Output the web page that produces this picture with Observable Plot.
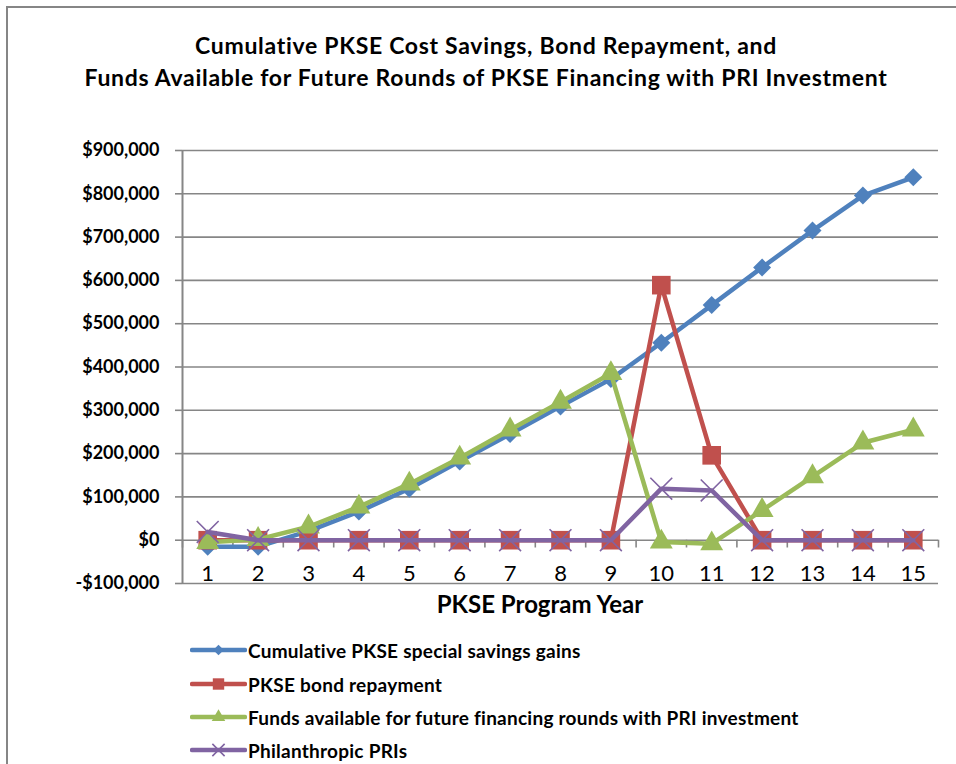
<!DOCTYPE html>
<html>
<head>
<meta charset="utf-8">
<script src="https://cdn.jsdelivr.net/npm/d3@7"></script>
<script src="https://cdn.jsdelivr.net/npm/@observablehq/plot@0.6"></script>
<style>
  html, body { margin: 0; padding: 0; background: #fff; }
  #wrap { position: relative; width: 956px; height: 764px; overflow: hidden; font-family: Lato, "Open Sans", sans-serif; color: #000; }
  #frame { position: absolute; left: 6px; top: 6px; right: -10px; bottom: -10px; border-left: 2px solid #868686; border-top: 2px solid #868686; }
  #title { position: absolute; left: 16px; width: 940px; top: 29px; text-align: center; font-weight: bold; font-size: 23px; letter-spacing: 0.7px; line-height: 32px; white-space: nowrap; }
  #xlabel { position: absolute; left: 340px; width: 400px; top: 590px; text-align: center; font-weight: bold; font-size: 24px; line-height: 28px; }
  #plot { position: absolute; left: 0; top: 0; }
  .leg { position: absolute; left: 190px; display: flex; align-items: center; font-weight: bold; font-size: 19px; letter-spacing: 0.25px; height: 24px; white-space: nowrap; }
  .leg svg { margin-right: 1px; }
</style>
</head>
<body>
<div id="wrap">
  <div id="frame"></div>
  <div id="plot"></div>
  <div id="title">Cumulative PKSE Cost Savings, Bond Repayment, and<br>Funds Available for Future Rounds of PKSE Financing with PRI Investment</div>
  <div id="xlabel">PKSE Program Year</div>
  <div id="legend"></div>
</div>
<script>
const years = [1, 2, 3, 4, 5, 6, 7, 8, 9, 10, 11, 12, 13, 14, 15];
const savings = [-15000, -15000, 21000, 66000, 119000, 182000, 245000, 309000, 372000, 456000, 543000, 630000, 715000, 796000, 838000];
const bond = [0, 0, 0, 0, 0, 0, 0, 0, 0, 589000, 196000, 0, 0, 0, 0];
const funds = [-5000, 2000, 31000, 77000, 130000, 190000, 255000, 319000, 385000, -4000, -8000, 69000, 147000, 225000, 255000];
const pri = [19000, 0, 0, 0, 0, 0, 0, 0, 0, 119000, 115000, 0, 0, 0, 0];
const yTicks = [-100000, 0, 100000, 200000, 300000, 400000, 500000, 600000, 700000, 800000, 900000];
const seriesNames = [
  "Cumulative PKSE special savings gains",
  "PKSE bond repayment",
  "Funds available for future financing rounds with PRI investment",
  "Philanthropic PRIs"
];
const seriesColors = ["#4F81BD", "#C0504D", "#9BBB59", "#8064A2"];
const seriesValues = [savings, bond, funds, pri];

const symbols = ["diamond2", "square", "triangle", "times"];
const dotR = [8.1, 10.5, 8.5, 10];
const legendSize = [70, 130, 80, 100];
const d3Symbols = [d3.symbolDiamond2, d3.symbolSquare, d3.symbolTriangle, d3.symbolTimes];

const fmt = d => (d < 0 ? "-" : "") + "$" + d3.format(",")(Math.abs(d));
const boundaries = [0.5].concat(years.map(y => y + 0.5));
const gray = "#868686";

const seriesMarks = seriesValues.flatMap((vals, s) => {
  const data = years.map((year, i) => ({year, value: vals[i]}));
  const isStroke = symbols[s] === "times";
  return [
    Plot.line(data, {x: "year", y: "value", stroke: seriesColors[s], strokeWidth: 4.5}),
    Plot.dot(data, {
      x: "year", y: "value", symbol: () => symbols[s], r: dotR[s],
      fill: isStroke ? "none" : seriesColors[s],
      stroke: isStroke ? seriesColors[s] : "none",
      strokeWidth: isStroke ? 1.6 : 0
    })
  ];
});

const chart = Plot.plot({
  width: 956,
  height: 764,
  marginLeft: 182,
  marginRight: 18,
  marginTop: 150,
  marginBottom: 181,
  style: {fontFamily: "Lato, 'Open Sans', sans-serif", color: "#000", background: "transparent"},
  x: {domain: [0.5, 15.5], axis: null},
  y: {domain: [-100000, 900000]},
  symbol: {type: "identity"},
  marks: [
    Plot.gridY(yTicks, {stroke: gray, strokeOpacity: 1, strokeWidth: 1.6}),
    Plot.axisY(yTicks, {tickSize: 7, tickPadding: 16, tickFormat: fmt, stroke: gray, strokeWidth: 1.6, fill: "#000", fontSize: 18, fontWeight: "bold", label: null}),
    Plot.ruleX([0.5], {stroke: gray, strokeWidth: 2}),
    Plot.ruleX(boundaries, {x: d => d, y1: 0, y2: -18000, stroke: gray, strokeWidth: 1.6}),
    Plot.text(years, {x: d => d, y: -100000, dy: -10, text: d => String(d), fontSize: 22, lineAnchor: "middle", fill: "#000"}),
    ...seriesMarks
  ]
});
document.getElementById("plot").appendChild(chart);

// Legend
const legendTops = [650, 684, 717, 750];
const legend = document.getElementById("legend");
seriesNames.forEach((name, s) => {
  const row = document.createElement("div");
  row.className = "leg";
  row.style.top = (legendTops[s] - 12) + "px";
  const svg = d3.create("svg").attr("width", 57).attr("height", 24);
  svg.append("line").attr("x1", 2).attr("x2", 55).attr("y1", 12).attr("y2", 12)
    .attr("stroke", seriesColors[s]).attr("stroke-width", 4.5).attr("stroke-linecap", "round");
  const isStroke = symbols[s] === "times";
  svg.append("path").attr("transform", "translate(28.5,12)")
    .attr("d", d3.symbol(d3Symbols[s], legendSize[s])())
    .attr("fill", isStroke ? "none" : seriesColors[s])
    .attr("stroke", isStroke ? seriesColors[s] : "none")
    .attr("stroke-width", 1.6);
  row.appendChild(svg.node());
  const span = document.createElement("span");
  span.textContent = name;
  row.appendChild(span);
  legend.appendChild(row);
});
</script>
</body>
</html>
